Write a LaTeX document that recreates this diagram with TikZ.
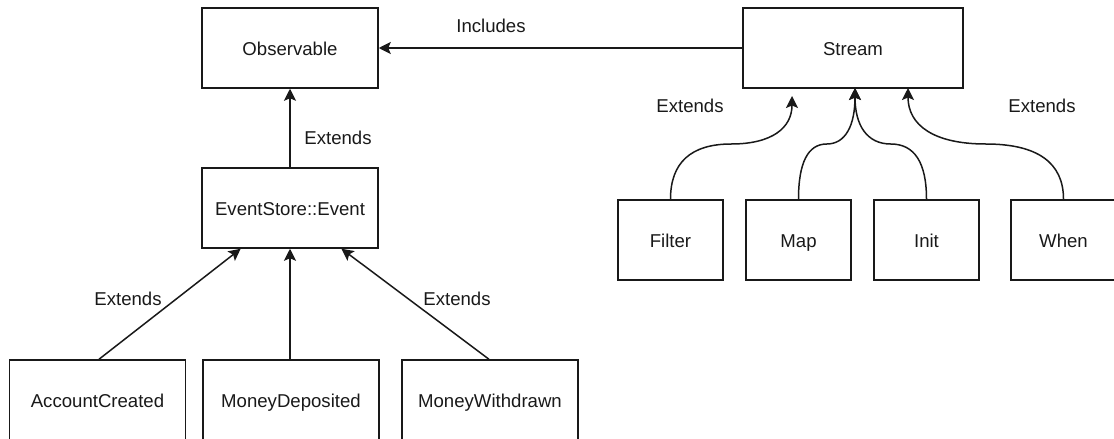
\documentclass[tikz,border=0pt]{standalone}
\usepackage{fontspec}
\setmainfont{Liberation Sans}
\usetikzlibrary{arrows.meta,calc}
\begin{document}
\begin{tikzpicture}[x=1pt,y=-1pt,
  box/.style={draw=black!90, line width=1.5pt, inner sep=0pt, minimum height=80pt, text height=17pt, text depth=3pt, font=\fontsize{18.6pt}{22pt}\selectfont, text=black!90},
  wbox/.style={box, minimum width=176pt},
  sbox/.style={box, minimum width=105pt},
  lbl/.style={font=\fontsize{18.6pt}{22pt}\selectfont, text=black!90, inner sep=0pt, text height=17pt, text depth=3pt},
  conn/.style={draw=black!90, line width=1.5pt, -{Stealth[length=12pt,width=12pt,inset=2.5pt]}}
]
\useasboundingbox (0,0) rectangle (1114,439);
% nodes
\node[wbox] (obs) at (290,48) {Observable};
\node[wbox] (evt) at (290,208) {EventStore::Event};
\node[box, minimum width=220pt] (stream) at (853,48) {Stream};
\node[sbox] (filter) at (670.5,240) {Filter};
\node[sbox] (map) at (798.5,240) {Map};
\node[sbox] (init) at (926.5,240) {Init};
\node[sbox] (when) at (1063.5,240) {When};
\node[wbox] (acc) at (97.5,400) {AccountCreated};
\node[wbox] (dep) at (291,400) {MoneyDeposited};
\node[wbox] (wd) at (490,400) {MoneyWithdrawn};
% labels
\node[lbl] (lincl) at (491,25) {Includes};
\node[lbl] (lext1) at (338,137) {Extends};
\node[lbl] (lext2) at (128,298) {Extends};
\node[lbl] (lext3) at (457,298) {Extends};
\node[lbl] (lext4) at (690,105) {Extends};
\node[lbl] (lext5) at (1042,105) {Extends};
% coordinates
\coordinate (eA) at ($(evt.south west)!0.222!(evt.south east)$);
\coordinate (eC) at ($(evt.south west)!0.79!(evt.south east)$);
\coordinate (sF) at (792,96);
\coordinate (sM) at (855,88);
\coordinate (sW) at (908,88);
% connectors
\draw[conn] (stream.west) -- (obs.east);
\draw[conn] (evt.north) -- (obs.south);
\draw[conn] ($(acc.north)+(1.5,0)$) -- (eA);
\draw[conn] (dep.north -| evt.south) -- (evt.south);
\draw[conn] ($(wd.north)+(-1,0)$) -- (eC);
\draw[conn] (filter.north) .. controls (670.5,162.7) and (690.75,144) .. (731.25,144)
  .. controls (771.75,144) and (792,128) .. (sF);
\draw[conn] (map.north) .. controls (798.5,162.7) and (807.9,144) .. (826.75,144)
  .. controls (845.6,144) and (855,125.3) .. (sM);
\draw[conn] (init.north) .. controls (926.5,162.7) and (914.6,144) .. (890.75,144)
  .. controls (866.9,144) and (855,125.3) .. (sM);
\draw[conn] (when.north) .. controls (1063.5,162.7) and (1037.6,144) .. (985.75,144)
  .. controls (933.9,144) and (908,125.3) .. (sW);
\end{tikzpicture}
\end{document}
